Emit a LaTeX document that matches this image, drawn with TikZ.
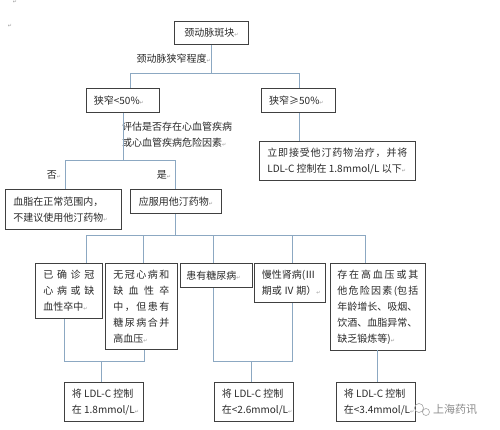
\documentclass[tikz,border=0pt]{standalone}
\usepackage{fontspec}
\setmainfont{Noto Sans CJK SC}
\newfontfamily\djv{DejaVu Sans}
\definecolor{boxc}{HTML}{404040}
\definecolor{lnc}{HTML}{8CA8C2}
\definecolor{txc}{HTML}{2A2A2A}
\newcommand\retm{{\djv\fontsize{5}{5}\selectfont\textcolor{black!40}{↵}}}
\begin{document}
\begin{tikzpicture}[x=1pt,y=-1pt,
  every node/.style={text=txc, font=\fontsize{10}{16}\selectfont},
  bx/.style={draw=boxc, line width=0.8pt, anchor=north west, inner sep=0pt, align=left},
  ln/.style={draw=lnc, line width=0.8pt},
  lab/.style={inner sep=0pt, align=left}]
\useasboundingbox (0,0) rectangle (500,429);
\fill[white] (0,0) rectangle (500,429);

% stray marks
\node[lab] (m1) at (15,2) {\retm};
\node[lab] (m2) at (10,26) {\retm};

% boxes
\node[bx, minimum width=74pt, minimum height=23pt] (top) at (174,21) {颈动脉斑块\retm};
\node[bx, minimum width=73pt, minimum height=24pt] (lt) at (86,88) {狭窄<50\%\retm\hspace{8pt}};
\node[bx, minimum width=74pt, minimum height=24pt] (rt) at (261,88) {狭窄≥50\%\retm\hspace{4pt}};
\node[bx, minimum width=156pt, minimum height=39pt] (imm) at (259,141)
  {\makebox[140pt]{立\hfill 即\hfill 接\hfill 受\hfill 他\hfill 汀\hfill 药\hfill 物\hfill 治\hfill 疗\hfill ，\hfill 并\hfill 将}\\
   \makebox[140pt][l]{LDL-C 控制在 1.8mmol/L 以下\retm}};
\node[bx, minimum width=116pt, minimum height=40pt] (no) at (5,189)
  {\makebox[100pt][l]{血脂在正常范围内，}\\ 不建议使用他汀药物\retm};
\node[bx, minimum width=91pt, minimum height=24pt] (yes) at (130,189) {应服用他汀药物\retm};

\node[bx, minimum width=67pt, minimum height=55pt] (b1) at (35,263)
  {\makebox[51pt]{已\hfill 确\hfill 诊\hfill 冠}\\
   \makebox[51pt]{心\hfill 病\hfill 或\hfill 缺}\\
   \makebox[51pt][l]{血性卒中\retm}};
\node[bx, minimum width=72pt, minimum height=86pt] (b2) at (105,263)
  {\makebox[56pt]{无\hfill 冠\hfill 心\hfill 病\hfill 和}\\
   \makebox[56pt]{缺\hfill 血\hfill 性\hfill 卒}\\
   \makebox[56pt]{中\hfill ，\hfill 但\hfill 患\hfill 有}\\
   \makebox[56pt]{糖\hfill 尿\hfill 病\hfill 合\hfill 并}\\
   \makebox[56pt][l]{高血压\retm}};
\node[bx, minimum width=72pt, minimum height=24pt] (b3) at (180,263) {患有糖尿病\retm\hspace{6pt}};
\node[bx, minimum width=71pt, minimum height=39pt] (b4) at (254,263)
  {\makebox[56pt][l]{慢性肾病(Ⅲ}\\ \makebox[56pt][l]{期或 Ⅳ 期）\retm}};
\node[bx, minimum width=95pt, minimum height=87pt] (b5) at (330,263)
  {\makebox[81pt]{存\hfill 在\hfill 高\hfill 血\hfill 压\hfill 或\hfill 其}\\
   \makebox[81pt]{他\hfill 危\hfill 险\hfill 因\hfill 素\hfill (包\hfill 括}\\
   \makebox[81pt][l]{年龄增长、吸烟、}\\
   \makebox[81pt][l]{饮酒、血脂异常、}\\
   \makebox[81pt][l]{缺乏锻炼等)\retm}};

\node[bx, minimum width=79pt, minimum height=39pt] (l1) at (64,382)
  {\makebox[64pt][l]{将 LDL-C 控制}\\ \makebox[64pt][l]{在 1.8mmol/L\retm}};
\node[bx, minimum width=79pt, minimum height=39pt] (l2) at (214,382)
  {\makebox[64pt][l]{将 LDL-C 控制}\\ \makebox[64pt][l]{在<2.6mmol/L\retm}};
\node[bx, minimum width=79pt, minimum height=39pt] (l3) at (336,382)
  {\makebox[64pt][l]{将 LDL-C 控制}\\ \makebox[64pt][l]{在<3.4mmol/L\retm}};

% labels
\node[lab, anchor=east] (t1) at (211,59) {颈动脉狭窄程度\retm};
\node[lab, anchor=west] (t2) at (122,135) {评估是否存在心血管疾病\\或心血管疾病危险因素\retm};
\node[lab] (t3) at (54,175) {否\retm};
\node[lab] (t4) at (164,175) {是\retm};

% junction coordinates
\coordinate (j1) at (130,73);
\coordinate (j2) at (299,73);
\coordinate (j3) at (65,160);
\coordinate (j4) at (175,160);
\coordinate (k0) at (175,235);
\coordinate (k1) at (86,235);
\coordinate (k2) at (143,235);
\coordinate (k3) at (213,235);
\coordinate (k4) at (292,235);
\coordinate (k5) at (365,235);
\coordinate (p1) at (64,361);
\coordinate (p2) at (145,361);
\coordinate (p3) at (101,361);
\coordinate (q1) at (213,361);
\coordinate (q2) at (292,361);
\coordinate (q3) at (251,361);
\coordinate (r1) at (377,350);

% connectors
\draw[ln] (top.south) -- (top.south |- j1);
\draw[ln] (j1) -- (j2);
\draw[ln] (j1) -- (j1 |- lt.north);
\draw[ln] (j2) -- (j2 |- rt.north);
\draw[ln] (j2 |- rt.south) -- (j2 |- imm.north);
\draw[ln] (lt.south) -- (lt.south |- j3);
\draw[ln] (j3) -- (j4);
\draw[ln] (j3) -- (j3 |- no.north);
\draw[ln] (j4) -- (j4 |- yes.north);
\draw[ln] (yes.south -| k0) -- (k0);
\draw[ln] (k1) -- (k5);
\draw[ln] (k1) -- (k1 |- b1.north);
\draw[ln] (k2) -- (k2 |- b2.north);
\draw[ln] (k3) -- (k3 |- b3.north);
\draw[ln] (k4) -- (k4 |- b4.north);
\draw[ln] (k5) -- (k5 |- b5.north);
\draw[ln] (p1 |- b1.south) -- (p1) -- (p2);
\draw[ln] (b2.south -| 144,0) -- (144,361);
\draw[ln] (p3) -- (p3 |- l1.north);
\draw[ln] (q1 |- b3.south) -- (q1) -- (q2) -- (q2 |- b4.south);
\draw[ln] (q3) -- (q3 |- l2.north);
\draw[ln] (r1) -- (r1 |- l3.north);

% watermark
\draw[black!35, line width=0.6pt] (419,408) circle (4.5) (426,412) circle (3.5);
\node[lab, text=black!45, font=\fontsize{11}{11}\selectfont, anchor=west] (wm) at (433,409) {上海药讯};
\end{tikzpicture}
\end{document}
